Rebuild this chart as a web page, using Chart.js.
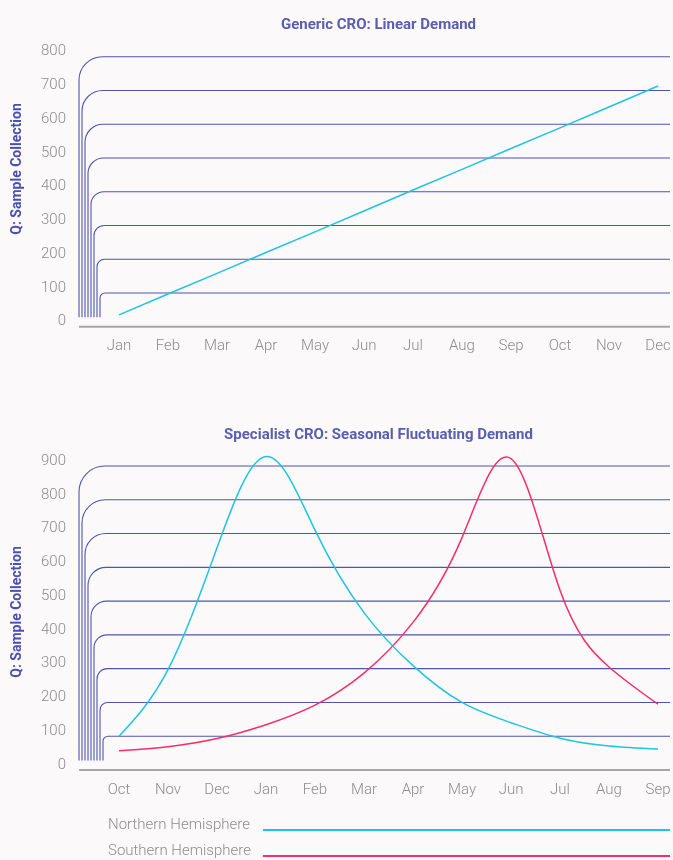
<!DOCTYPE html>
<html><head><meta charset="utf-8">
<script src="https://cdn.jsdelivr.net/npm/chart.js@4.4.1/dist/chart.umd.min.js"></script>
<style>
html,body{margin:0;padding:0;background:#fcf9fb;}
#wrap{position:relative;width:673px;height:860px;overflow:hidden;}
.box{position:absolute;left:0;width:673px;}
</style></head><body>
<div id="wrap">
<div class="box" style="top:0;height:400px"><canvas id="c1"></canvas></div>
<div class="box" style="top:400px;height:460px"><canvas id="c2"></canvas></div>
</div>
<script>
const linearMonths = ['Jan','Feb','Mar','Apr','May','Jun','Jul','Aug','Sep','Oct','Nov','Dec'];
const linearDemand = [35, 97, 158, 220, 281, 343, 405, 466, 528, 589, 651, 713];
const seasonMonths = ['Oct','Nov','Dec','Jan','Feb','Mar','Apr','May','Jun','Jul','Aug','Sep'];
const northernDemand = [100, 297, 658, 928, 710, 466, 309, 200, 140, 94, 71, 62];
const southernDemand = [57, 69, 93, 134, 192, 287, 437, 688, 922, 532, 305, 195];
const linearTickMax = 800;
const seasonTickMax = 900;
const tickStep = 100;

const FONT = 'Roboto, "Noto Sans", sans-serif';
const TITLE_COLOR = '#5a5eae';
const AXIS_TITLE_COLOR = '#4b50b0';
const GRID_COLOR = '#4e55ad';
const TICK_COLOR = '#8c8c8c';
const CYAN = '#1fc4e0';
const PINK = '#f52d6c';

// natural cubic spline control points (same scheme as d3.curveNatural)
function naturalControls(x) {
  const n = x.length - 1;
  const a = new Array(n), b = new Array(n), r = new Array(n);
  a[0] = 0; b[0] = 2; r[0] = x[0] + 2 * x[1];
  for (let i = 1; i < n - 1; ++i) { a[i] = 1; b[i] = 4; r[i] = 4 * x[i] + 2 * x[i + 1]; }
  a[n - 1] = 2; b[n - 1] = 7; r[n - 1] = 8 * x[n - 1] + x[n];
  for (let i = 1; i < n; ++i) { const m = a[i] / b[i - 1]; b[i] -= m; r[i] -= m * r[i - 1]; }
  a[n - 1] = r[n - 1] / b[n - 1];
  for (let i = n - 2; i >= 0; --i) a[i] = (r[i] - a[i + 1]) / b[i];
  b[n - 1] = (x[n] + a[n - 1]) / 2;
  for (let i = 0; i < n - 1; ++i) b[i] = 2 * x[i + 1] - a[i + 1];
  return [a, b];
}

const naturalSpline = {
  id: 'naturalSpline',
  beforeDatasetsDraw(chart) {
    chart.data.datasets.forEach((ds, di) => {
      if (!ds.tension) return;
      const meta = chart.getDatasetMeta(di);
      meta.dataset.updateControlPoints(chart.chartArea, 'x');
      const pts = meta.data;
      if (pts.length < 3) return;
      const [ax, bx] = naturalControls(pts.map(p => p.x));
      const [ay, by] = naturalControls(pts.map(p => p.y));
      for (let i = 0; i < pts.length - 1; i++) {
        pts[i].cp2x = ax[i]; pts[i].cp2y = ay[i];
        pts[i + 1].cp1x = bx[i]; pts[i + 1].cp1y = by[i];
      }
      delete meta.dataset._path;
    });
  }
};

const curvedGrid = {
  id: 'curvedGrid',
  beforeDatasetsDraw(chart) {
    const {ctx, chartArea: a, scales: {y}} = chart;
    const ticks = y.ticks.filter(t => t.value > 0);
    const n = ticks.length;
    const y0 = y.getPixelForValue(0);
    const leftBase = a.left - 40;
    const rightEnd = a.right + 12;
    const bottomY = y0 - 9.5;
    ctx.save();
    ctx.strokeStyle = GRID_COLOR;
    ctx.lineWidth = 1.1;
    ticks.forEach((t, i) => {
      const k = i + 1;
      const py = y.getPixelForValue(t.value);
      const xv = leftBase + 3 * (n - k);
      const r = 2.5 + 2.6 * k;
      ctx.beginPath();
      ctx.moveTo(xv, bottomY);
      ctx.lineTo(xv, py + r);
      ctx.arcTo(xv, py, xv + r, py, r);
      ctx.lineTo(rightEnd, py);
      ctx.stroke();
    });
    ctx.strokeStyle = '#a6a6a8';
    ctx.lineWidth = 2;
    ctx.beginPath();
    ctx.moveTo(leftBase, y0);
    ctx.lineTo(rightEnd, y0);
    ctx.stroke();
    ctx.restore();
  }
};

const textDeco = {
  id: 'textDeco',
  afterDraw(chart, args, opts) {
    const {ctx, chartArea: a} = chart;
    ctx.save();
    ctx.fillStyle = TITLE_COLOR;
    ctx.font = 'bold 15px ' + FONT;
    ctx.textAlign = 'center';
    ctx.textBaseline = 'middle';
    ctx.fillText(opts.title, (a.left + a.right) / 2 - 10, opts.titleY);
    ctx.fillStyle = AXIS_TITLE_COLOR;
    ctx.font = 'bold 14px ' + FONT;
    ctx.translate(17, opts.axisTitleY);
    ctx.rotate(-Math.PI / 2);
    ctx.fillText(opts.axisTitle, 0, 0);
    ctx.restore();
    if (opts.legendY) {
      ctx.save();
      ctx.font = '300 15px ' + FONT;
      ctx.textAlign = 'left';
      ctx.textBaseline = 'middle';
      const ds = chart.data.datasets;
      const maxW = Math.max(...ds.map(d => ctx.measureText(d.label).width));
      ds.forEach((d, i) => {
        const ty = opts.legendY + i * 26;
        ctx.fillStyle = TICK_COLOR;
        ctx.fillText(d.label, 108, ty);
        ctx.strokeStyle = d.borderColor;
        ctx.lineWidth = 1.8;
        ctx.beginPath();
        ctx.moveTo(108 + maxW + 12, ty + 4.5);
        ctx.lineTo(a.right + 12, ty + 4.5);
        ctx.stroke();
      });
      ctx.restore();
    }
  }
};

function makeOptions(maxV, padTop, padBottom, deco) {
  return {
    responsive: true,
    maintainAspectRatio: false,
    animation: false,
    layout: {padding: {top: padTop, bottom: padBottom, left: 0, right: 15}},
    plugins: {legend: {display: false}, tooltip: {enabled: false}, textDeco: deco},
    elements: {point: {radius: 0}, line: {capBezierPoints: false}},
    scales: {
      x: {
        offset: false,
        grid: {display: false, drawTicks: false},
        border: {display: false},
        ticks: {color: TICK_COLOR, font: {family: FONT, size: 15, weight: '300'}, padding: 11, maxRotation: 0, autoSkip: false},
        afterFit(s) { s.height = 40; s.paddingLeft = 0; s.paddingRight = 0; }
      },
      y: {
        min: 0, max: maxV,
        grid: {display: false, drawTicks: false},
        border: {display: false},
        ticks: {stepSize: tickStep, color: TICK_COLOR, font: {family: FONT, size: 15, weight: '300'}, padding: 53, labelOffset: -5},
        afterFit(s) { s.width = 119; s.paddingTop = 0; s.paddingBottom = 0; }
      }
    }
  };
}

new Chart(document.getElementById('c1'), {
  type: 'line',
  data: {
    labels: linearMonths,
    datasets: [{label: 'Demand', data: linearDemand, borderColor: CYAN, borderWidth: 1.5, tension: 0, fill: false, clip: false}]
  },
  options: makeOptions(linearTickMax, 56.7, 33.3, {title: 'Generic CRO: Linear Demand', titleY: 25, axisTitle: 'Q: Sample Collection', axisTitleY: 169}),
  plugins: [curvedGrid, naturalSpline, textDeco]
});

new Chart(document.getElementById('c2'), {
  type: 'line',
  data: {
    labels: seasonMonths,
    datasets: [
      {label: 'Northern Hemisphere', data: northernDemand, borderColor: CYAN, borderWidth: 1.5, tension: 0.4, fill: false, clip: false},
      {label: 'Southern Hemisphere', data: southernDemand, borderColor: PINK, borderWidth: 1.5, tension: 0.4, fill: false, clip: false}
    ]
  },
  options: makeOptions(seasonTickMax, 66, 50, {title: 'Specialist CRO: Seasonal Fluctuating Demand', titleY: 35, axisTitle: 'Q: Sample Collection', axisTitleY: 212, legendY: 425.5}),
  plugins: [curvedGrid, naturalSpline, textDeco]
});
</script>
</body></html>
